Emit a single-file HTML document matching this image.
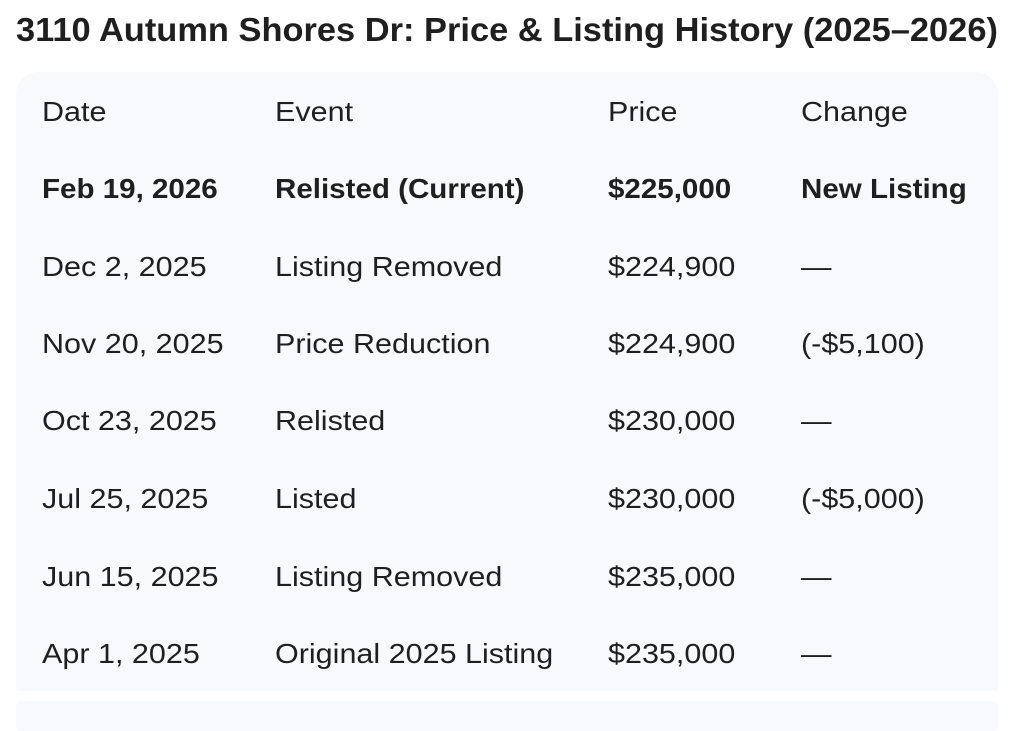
<!DOCTYPE html>
<html><head><meta charset="utf-8"><style>
html,body{margin:0;padding:0;background:#fff;width:1024px;height:712px;overflow:hidden;font-family:"Liberation Sans",Arial,sans-serif;color:#1f1f1f}
.title{position:absolute;left:16px;top:13px;font-size:33px;line-height:33px;font-weight:bold;white-space:nowrap;transform:scaleX(1.043);transform-origin:0 0}
.card{position:absolute;left:16px;top:72px;width:982px;height:619px;background:#f8f9fc;border-radius:22px 22px 4px 4px}
.card2{position:absolute;left:16px;top:701px;width:982px;height:30px;background:#f8f9fc;border-radius:6px}
.c{position:absolute;font-size:28px;white-space:nowrap;line-height:30px;transform:scaleX(1.09);transform-origin:0 0}
.b{font-weight:bold;transform:scaleX(1.055)}
</style></head><body>
<div class="title">3110 Autumn Shores Dr: Price &amp; Listing History (2025–2026)</div>
<div class="card"></div><div class="card2"></div>
<div class="c" style="left:42px;top:97px">Date</div>
<div class="c" style="left:275px;top:97px">Event</div>
<div class="c" style="left:608px;top:97px">Price</div>
<div class="c" style="left:801px;top:97px">Change</div>

<div class="c b" style="left:42px;top:174px">Feb 19, 2026</div>
<div class="c b" style="left:275px;top:174px">Relisted (Current)</div>
<div class="c b" style="left:608px;top:174px">$225,000</div>
<div class="c b" style="left:801px;top:174px">New Listing</div>

<div class="c" style="left:42px;top:252px">Dec 2, 2025</div>
<div class="c" style="left:275px;top:252px">Listing Removed</div>
<div class="c" style="left:608px;top:252px">$224,900</div>
<div class="c" style="left:801px;top:252px">—</div>

<div class="c" style="left:42px;top:329px">Nov 20, 2025</div>
<div class="c" style="left:275px;top:329px">Price Reduction</div>
<div class="c" style="left:608px;top:329px">$224,900</div>
<div class="c" style="left:801px;top:329px">(-$5,100)</div>

<div class="c" style="left:42px;top:406px">Oct 23, 2025</div>
<div class="c" style="left:275px;top:406px">Relisted</div>
<div class="c" style="left:608px;top:406px">$230,000</div>
<div class="c" style="left:801px;top:406px">—</div>

<div class="c" style="left:42px;top:484px">Jul 25, 2025</div>
<div class="c" style="left:275px;top:484px">Listed</div>
<div class="c" style="left:608px;top:484px">$230,000</div>
<div class="c" style="left:801px;top:484px">(-$5,000)</div>

<div class="c" style="left:42px;top:562px">Jun 15, 2025</div>
<div class="c" style="left:275px;top:562px">Listing Removed</div>
<div class="c" style="left:608px;top:562px">$235,000</div>
<div class="c" style="left:801px;top:562px">—</div>

<div class="c" style="left:42px;top:639px">Apr 1, 2025</div>
<div class="c" style="left:275px;top:639px">Original 2025 Listing</div>
<div class="c" style="left:608px;top:639px">$235,000</div>
<div class="c" style="left:801px;top:639px">—</div>
</body></html>
